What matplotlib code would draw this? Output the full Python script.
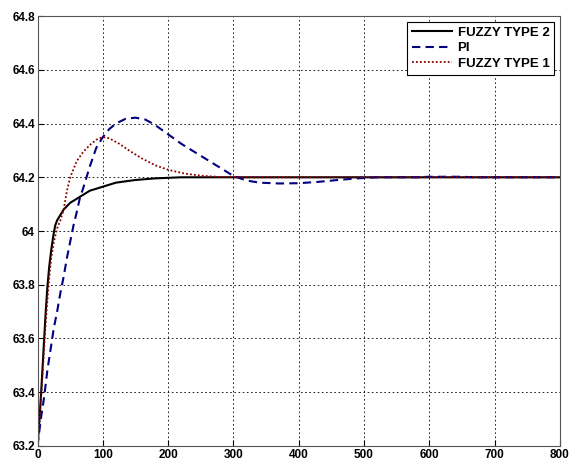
import numpy as np
import matplotlib
matplotlib.use("Agg")
import matplotlib.pyplot as plt

# values
t_fuzzy2 = [0, 3, 6, 9, 12, 15, 18, 21, 24, 27, 30, 35, 40, 50, 60, 70, 80,
            100, 120, 150, 180, 220, 300, 400, 500, 600, 700, 800]
y_fuzzy2 = [63.2, 63.3, 63.42, 63.55, 63.68, 63.79, 63.87, 63.93, 63.98, 64.02,
            64.04, 64.06, 64.08, 64.105, 64.12, 64.135, 64.15, 64.165, 64.18,
            64.19, 64.196, 64.2, 64.2, 64.2, 64.2, 64.2, 64.2, 64.2]

t_pi = [0, 5, 10, 15, 20, 25, 30, 35, 40, 45, 50, 55, 60, 65, 70, 75, 80, 85,
        90, 100, 110, 120, 135, 150, 165, 180, 200, 220, 240, 260, 280, 300,
        320, 340, 370, 400, 430, 460, 490, 520, 580, 600, 650, 670, 800]
y_pi = [63.2, 63.3, 63.38, 63.48, 63.56, 63.64, 63.7, 63.77, 63.83, 63.9,
        63.96, 64.02, 64.07, 64.125, 64.16, 64.2, 64.24, 64.275, 64.31, 64.35,
        64.38, 64.4, 64.418, 64.422, 64.415, 64.395, 64.36, 64.325, 64.295,
        64.265, 64.235, 64.205, 64.188, 64.18, 64.177, 64.178, 64.183, 64.19,
        64.196, 64.2, 64.2, 64.202, 64.202, 64.2, 64.2]

t_fuzzy1 = [0, 3, 6, 9, 12, 15, 18, 21, 25, 30, 35, 40, 45, 50, 55, 60, 70,
            80, 90, 100, 110, 125, 140, 160, 180, 200, 225, 250, 280, 320,
            400, 500, 600, 700, 800]
y_fuzzy1 = [63.2, 63.29, 63.4, 63.52, 63.64, 63.74, 63.83, 63.9, 63.96, 64.01,
            64.04, 64.08, 64.15, 64.2, 64.23, 64.26, 64.295, 64.32, 64.34,
            64.35, 64.345, 64.325, 64.3, 64.27, 64.245, 64.228, 64.214, 64.206,
            64.201, 64.2, 64.2, 64.2, 64.2, 64.2, 64.2]

labels = ['FUZZY TYPE 2', 'PI', 'FUZZY TYPE 1']

plt.rcParams['font.family'] = ['Liberation Sans', 'DejaVu Sans']

fig = plt.figure(figsize=(5.69, 4.62), dpi=100)
ax = fig.add_axes([0.066, 0.035, 0.918, 0.93])

ax.plot(t_fuzzy2, y_fuzzy2, color='black', lw=1.5, label=labels[0])
ax.plot(t_pi, y_pi, color='#000080', lw=1.5, ls=(0, (4, 2.5)), label=labels[1])
ax.plot(t_fuzzy1, y_fuzzy1, color='#8b0000', lw=1.3, ls=(0, (1, 1.2)), label=labels[2])

ax.set_xlim(0, 800)
ax.set_ylim(63.2, 64.8)
ax.set_xticks(np.arange(0, 801, 100))
ax.set_yticks(np.arange(63.2, 64.81, 0.2))
ax.set_yticklabels(['63.2', '63.4', '63.6', '63.8', '64', '64.2', '64.4', '64.6', '64.8'])
ax.grid(True, color='black', ls=(0, (2, 3)), lw=0.6)
ax.tick_params(direction='in', length=4, labelsize=8.5, pad=2)
for lab in ax.get_xticklabels() + ax.get_yticklabels():
    lab.set_fontweight('bold')
for sp in ax.spines.values():
    sp.set_color('#555555')

leg = ax.legend(loc='upper right', fancybox=False, framealpha=1, edgecolor='black',
                fontsize=9.5, handlelength=3.0, borderaxespad=0.45,
                labelspacing=0.25, borderpad=0.35, handletextpad=0.45)
for txt in leg.get_texts():
    txt.set_fontweight('bold')
leg.get_frame().set_linewidth(0.8)

fig.savefig('out.png', dpi=100)
